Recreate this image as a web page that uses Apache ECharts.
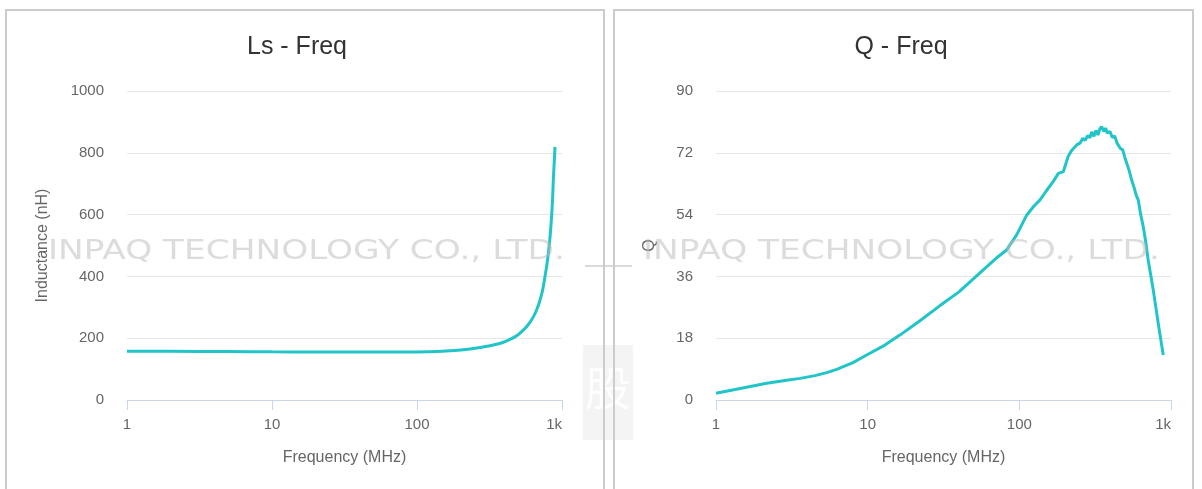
<!DOCTYPE html>
<html>
<head>
<meta charset="utf-8">
<script src="https://cdn.jsdelivr.net/npm/echarts@6/dist/echarts.min.js"></script>
<style>
  html, body { margin: 0; padding: 0; background: #fff; }
  #main { width: 1202px; height: 489px; }
</style>
</head>
<body>
<div id="main"></div>
<script>
// Ls - Freq
var lsFreq = [1, 2, 5, 10, 20, 50, 100, 150, 200, 232, 280, 336, 390, 438, 490, 541, 590, 634, 670, 705, 735, 763, 785, 805, 830, 850, 862, 871, 883, 895];
var lsVals = [158, 157.5, 157, 156, 155.5, 155, 155.5, 158, 162, 165, 171, 178, 186, 196, 209, 226, 246, 269, 293, 323, 355, 399, 435, 474, 535, 603, 655, 711, 765, 819];

// Q - Freq
var qFreq = [1, 1.5, 2.16, 3, 3.58, 4.5, 5.37, 6.25, 8, 9.85, 13, 16.3, 22, 30, 40, 57.8, 70, 82.4, 96, 112, 125, 137, 150, 167, 181, 195, 210, 220, 230, 239, 251, 262, 272, 282, 292, 300, 310, 320, 330, 340, 349, 360, 370, 380, 396, 410, 425, 440, 449, 465, 480, 495, 510, 530, 550, 570, 590, 608, 630, 656, 680, 707, 735, 764, 795, 824, 855, 889];
var qVals = [1.95, 3.5, 4.86, 5.8, 6.3, 7.1, 7.96, 8.93, 10.9, 13.1, 16.0, 18.9, 23.0, 27.5, 31.5, 37.9, 41.2, 43.7, 48.1, 53.9, 56.5, 58.3, 60.8, 63.6, 66.0, 66.5, 71.0, 72.5, 73.5, 74.3, 74.8, 76.2, 75.6, 77.0, 76.4, 78.1, 76.8, 78.5, 77.2, 79.0, 79.6, 78.2, 79.2, 77.8, 78.2, 76.5, 76.9, 74.9, 74.8, 73.2, 72.9, 70.8, 70.4, 66.8, 64.1, 62.0, 59.6, 58.3, 54.2, 50.5, 46.3, 40.8, 36.4, 32.0, 26.9, 22.3, 17.8, 13.1];

var xTicks = ['1', '10', '100', '1k'];
var titles = ['Ls - Freq', 'Q - Freq'];
var yNames = ['Inductance (nH)', 'Q'];
var watermark = 'INPAQ TECHNOLOGY CO., LTD.';

function pairs(xs, ys) {
    var out = [];
    for (var i = 0; i < xs.length; i++) out.push([xs[i], ys[i]]);
    return out;
}

var font = '"Liberation Sans", Arial, Helvetica, sans-serif';
var lineColor = '#20c4c9';

function xAxisCfg(idx) {
    return {
        type: 'log', logBase: 10, min: 1, max: 1000, gridIndex: idx,
        name: 'Frequency (MHz)', nameLocation: 'middle', nameGap: 50,
        nameTextStyle: { color: '#666', fontSize: 16, fontFamily: font },
        axisLine: { show: true, lineStyle: { color: '#ccd6eb', width: 1 } },
        axisTick: { show: true, length: 10, lineStyle: { color: '#ccd6eb' } },
        axisLabel: {
            color: '#666', fontSize: 15, fontFamily: font, margin: 17,
            alignMaxLabel: 'right',
            formatter: function (v) {
                var k = Math.round(Math.log10(v));
                return xTicks[k] || '';
            }
        },
        splitLine: { show: false },
        minorTick: { show: false }
    };
}

function yAxisCfg(idx, max, interval, gap) {
    return {
        type: 'value', gridIndex: idx, min: 0, max: max, interval: interval,
        name: yNames[idx], nameLocation: 'middle', nameGap: gap,
        nameTextStyle: { color: '#666', fontSize: 16, fontFamily: font },
        axisLine: { show: false },
        axisTick: { show: false },
        axisLabel: { color: '#666', fontSize: 15, fontFamily: font, margin: 23,
                     formatter: function (v) { return String(v); } },
        splitLine: { lineStyle: { color: '#e6e6e6', width: 1 } }
    };
}

var chart = echarts.init(document.getElementById('main'), null, { renderer: 'canvas' });

function wmText(x) {
    return {
        type: 'text', x: x, y: 239, scaleX: 1.32, z: 50, silent: true,
        style: { text: watermark, x: 0, y: 0, verticalAlign: 'top',
                 fill: 'rgba(185,185,185,0.5)', font: '26px "DejaVu Sans", sans-serif' }
    };
}

var option = {
    animation: false,
    backgroundColor: '#fff',
    title: [
        { text: titles[0], left: 292, top: 30, textAlign: 'center',
          textStyle: { color: '#333', fontSize: 25, fontWeight: 'normal', fontFamily: font } },
        { text: titles[1], left: 896, top: 30, textAlign: 'center',
          textStyle: { color: '#333', fontSize: 25, fontWeight: 'normal', fontFamily: font } }
    ],
    grid: [
        { left: 127, right: 640, top: 91, bottom: 89 },
        { left: 716, right: 31, top: 91, bottom: 89 }
    ],
    xAxis: [xAxisCfg(0), xAxisCfg(1)],
    yAxis: [yAxisCfg(0, 1000, 200, 76), yAxisCfg(1, 90, 18, 58)],
    graphic: [
        // panel frames
        { type: 'rect', shape: { x: 6, y: 10, width: 598, height: 492 },
          style: { fill: 'none', stroke: '#cccccc', lineWidth: 2 }, z: 100 },
        { type: 'rect', shape: { x: 614, y: 10, width: 579, height: 492 },
          style: { fill: 'none', stroke: '#cccccc', lineWidth: 2 }, z: 100 },
        // watermark
        wmText(48),
        wmText(643),
        { type: 'rect', shape: { x: 585, y: 265, width: 47, height: 2 },
          style: { fill: 'rgba(180,180,180,0.5)' }, z: 50, silent: true },
        { type: 'rect', shape: { x: 583, y: 345, width: 50, height: 95 },
          style: { fill: 'rgba(200,200,200,0.2)' }, z: 1, silent: true },
        { type: 'text', left: 585, top: 365, z: 2, silent: true,
          style: { text: '股', fill: 'rgba(255,255,255,0.85)', font: '46px "Noto Sans CJK SC", sans-serif' } }
    ],
    series: [
        { type: 'line', xAxisIndex: 0, yAxisIndex: 0, data: pairs(lsFreq, lsVals),
          showSymbol: false, smooth: 0.3, lineStyle: { color: lineColor, width: 3 }, z: 10 },
        { type: 'line', xAxisIndex: 1, yAxisIndex: 1, data: pairs(qFreq, qVals),
          showSymbol: false, lineStyle: { color: lineColor, width: 3 }, z: 10 }
    ]
};

chart.setOption(option);
</script>
</body>
</html>
